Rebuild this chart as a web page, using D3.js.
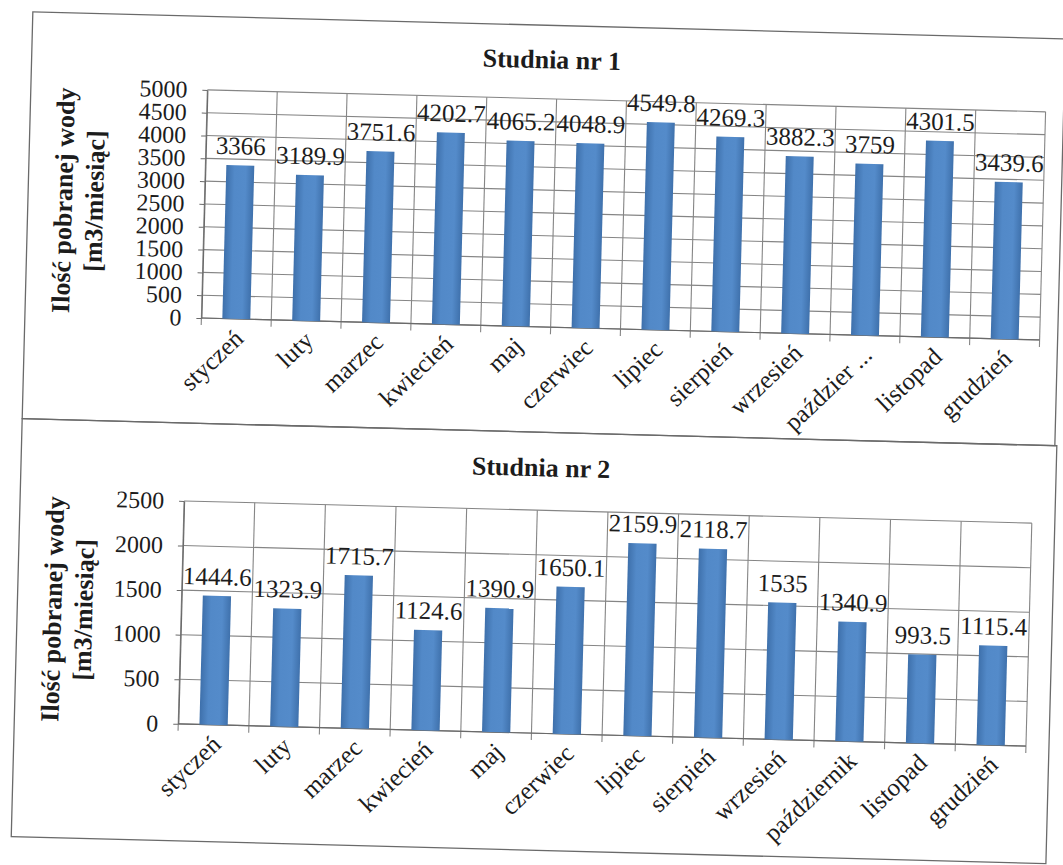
<!DOCTYPE html>
<html>
<head>
<meta charset="utf-8">
<script src="https://cdn.jsdelivr.net/npm/d3@7"></script>
<style>
  html, body { margin: 0; padding: 0; background: #ffffff; }
  svg { display: block; }
  text { font-family: "Liberation Serif", "Times New Roman", serif; fill: #1c1c1c; }
</style>
</head>
<body>
<svg id="chart" width="1063" height="865"></svg>
<script>
// Monthly water intake for two wells
const months = ["styczeń", "luty", "marzec", "kwiecień", "maj", "czerwiec",
                "lipiec", "sierpień", "wrzesień", "październik", "listopad", "grudzień"];
const axisLabels1 = ["styczeń", "luty", "marzec", "kwiecień", "maj", "czerwiec",
                     "lipiec", "sierpień", "wrzesień", "paździer ...", "listopad", "grudzień"];
const axisLabels2 = ["styczeń", "luty", "marzec", "kwiecień", "maj", "czerwiec",
                     "lipiec", "sierpień", "wrzesień", "październik", "listopad", "grudzień"];
const studnia1 = [3366, 3189.9, 3751.6, 4202.7, 4065.2, 4048.9, 4549.8, 4269.3, 3882.3, 3759, 4301.5, 3439.6];
const studnia2 = [1444.6, 1323.9, 1715.7, 1124.6, 1390.9, 1650.1, 2159.9, 2118.7, 1535, 1340.9, 993.5, 1115.4];
const ticks1 = [0, 500, 1000, 1500, 2000, 2500, 3000, 3500, 4000, 4500, 5000];
const ticks2 = [0, 500, 1000, 1500, 2000, 2500];
const titles = ["Studnia nr 1", "Studnia nr 2"];
const yTitleLines = ["Ilość pobranej wody", "[m3/miesiąc]"];

const svg = d3.select("#chart");

const defs = svg.append("defs");
const grad = defs.append("linearGradient").attr("id", "barFill")
  .attr("x1", "0%").attr("x2", "100%").attr("y1", "0%").attr("y2", "0%");
grad.append("stop").attr("offset", "0%").attr("stop-color", "#3e70ab");
grad.append("stop").attr("offset", "30%").attr("stop-color", "#5289c8");
grad.append("stop").attr("offset", "70%").attr("stop-color", "#548bca");
grad.append("stop").attr("offset", "100%").attr("stop-color", "#3f71ac");

// the page sits slightly tilted
const root = svg.append("g").attr("transform", "rotate(1.5, 531.5, 432.5)");

const panels = [
  { title: titles[0], values: studnia1, ticks: ticks1, labels: axisLabels1, max: 5000,
    box: { x: 22, y: 25, w: 1033, h: 407 },
    plot: { x0: 198.5, x1: 1037, y0: 98.5, y1: 326.7 }, titleY: 68 },
  { title: titles[1], values: studnia2, ticks: ticks2, labels: axisLabels2, max: 2500,
    box: { x: 22, y: 432, w: 1035, h: 418 },
    plot: { x0: 186, x1: 1034, y0: 510, y1: 733 }, titleY: 476 }
];

panels.forEach(p => {
  const g = root.append("g");

  g.append("rect")
    .attr("x", p.box.x).attr("y", p.box.y)
    .attr("width", p.box.w).attr("height", p.box.h)
    .attr("fill", "none").attr("stroke", "#6a6a6a").attr("stroke-width", 1.3);

  const x = d3.scaleBand().domain(months).range([p.plot.x0, p.plot.x1]).padding(0);
  const y = d3.scaleLinear().domain([0, p.max]).range([p.plot.y1, p.plot.y0]);
  const bw = x.bandwidth();

  // horizontal gridlines
  g.append("g").selectAll("line").data(p.ticks).join("line")
    .attr("x1", p.plot.x0).attr("x2", p.plot.x1)
    .attr("y1", d => y(d)).attr("y2", d => y(d))
    .attr("stroke", "#858585").attr("stroke-width", 1.1);

  // vertical gridlines on category boundaries
  const bounds = months.map(m => x(m)).concat([p.plot.x1]);
  g.append("g").selectAll("line").data(bounds).join("line")
    .attr("x1", d => d).attr("x2", d => d)
    .attr("y1", p.plot.y0).attr("y2", p.plot.y1 + 7)
    .attr("stroke", "#858585").attr("stroke-width", 1.1);

  // value axis
  const yAxis = g.append("g")
    .attr("transform", `translate(${p.plot.x0},0)`)
    .call(d3.axisLeft(y).tickValues(p.ticks).tickFormat(d3.format("d"))
      .tickSize(5).tickSizeOuter(0).tickPadding(15));
  yAxis.select(".domain").attr("stroke", "#6a6a6a").attr("stroke-width", 1.2);
  yAxis.selectAll(".tick line").attr("stroke", "#6a6a6a");
  yAxis.selectAll(".tick text")
    .style("font-family", "Liberation Serif").style("font-size", "24px").attr("fill", "#1c1c1c");

  // category axis line
  g.append("line")
    .attr("x1", p.plot.x0).attr("x2", p.plot.x1)
    .attr("y1", p.plot.y1).attr("y2", p.plot.y1)
    .attr("stroke", "#6a6a6a").attr("stroke-width", 1.2);

  // bars
  g.append("g").selectAll("rect").data(p.values).join("rect")
    .attr("x", (d, i) => x(months[i]) + bw * 0.3)
    .attr("width", bw * 0.4)
    .attr("y", d => y(d))
    .attr("height", d => y(0) - y(d))
    .attr("fill", "url(#barFill)");

  // value labels
  g.append("g").selectAll("text").data(p.values).join("text")
    .attr("x", (d, i) => x(months[i]) + bw / 2)
    .attr("y", d => y(d) - 11)
    .attr("text-anchor", "middle")
    .style("font-size", "25px")
    .text(d => String(d));

  // category labels
  g.append("g").selectAll("text").data(p.labels).join("text")
    .attr("transform", (d, i) => `translate(${x(months[i]) + bw / 2 + 3},${p.plot.y1 + 15}) rotate(-45)`)
    .attr("text-anchor", "end")
    .attr("dy", "0.35em")
    .style("font-size", "25px")
    .text(d => d);

  // chart title
  g.append("text")
    .attr("x", 542).attr("y", p.titleY)
    .attr("text-anchor", "middle")
    .style("font-size", "26px").style("font-weight", "bold")
    .text(p.title);

  // value axis title
  const yc = (p.plot.y0 + p.plot.y1) / 2;
  [57, 88].forEach((cx, k) => {
    g.append("text")
      .attr("transform", `translate(${cx},${yc}) rotate(-90)`)
      .attr("text-anchor", "middle")
      .attr("dy", "0.35em")
      .style("font-size", "26px").style("font-weight", "bold")
      .text(yTitleLines[k]);
  });
});
</script>
</body>
</html>
